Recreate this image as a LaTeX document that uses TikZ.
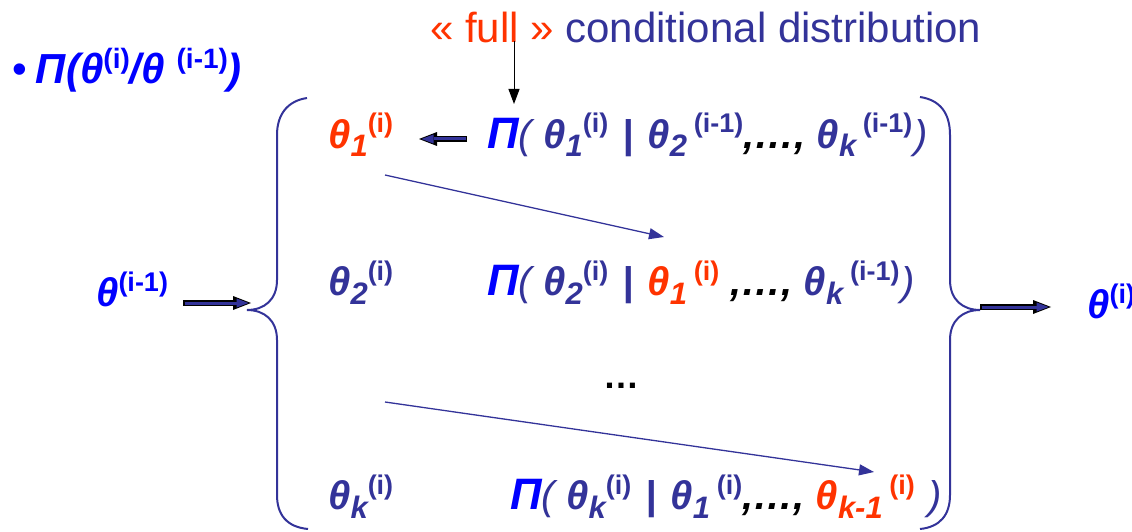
\documentclass[tikz,border=0pt]{standalone}
\usepackage{fontspec}
\setmainfont{Liberation Sans}
\usetikzlibrary{arrows.meta}
\definecolor{InkNavy}{HTML}{333399}
\definecolor{InkBlue}{HTML}{0000FF}
\definecolor{InkRed}{HTML}{FF3300}
\newcommand{\fm}{\fontsize{40}{44}\selectfont\bfseries\itshape}
\newcommand{\subx}[1]{\raisebox{-9pt}{\fontsize{31}{34}\selectfont\bfseries\itshape #1}}
\newcommand{\supx}[1]{\raisebox{15pt}{\fontsize{27}{30}\selectfont\bfseries\upshape #1}}
\newcommand{\bigpi}{{\color{InkBlue}\fontsize{44}{48}\selectfont Π}}
\newcommand{\given}{\hspace{3pt} | \hspace{3pt}}
\tikzset{
  txt/.style={inner sep=0pt, anchor=base west},
  thin arrow/.style={draw=InkNavy, line width=1.3pt, -{Triangle[length=15pt,width=11pt]}},
  fat arrow/.style={draw=InkNavy, line width=3pt, shorten >=2.5pt, shorten <=1.5pt,
    -{Triangle[length=12pt,width=9pt,line width=0pt]},
    preaction={draw=black, line width=6pt, shorten >=0pt, shorten <=0pt,
      -{Triangle[length=18pt,width=14pt,line width=0pt]}}},
  brace/.style={draw=InkNavy, line width=2pt}
}

\begin{document}
\begin{tikzpicture}[x=1pt,y=-1pt]
        \useasboundingbox (0,0) rectangle (1132,532);
        % header texts
        \node[txt, text=InkBlue] (bul) at (12,84) {\fontsize{42}{46}\selectfont{\mdseries •}\hspace{9pt}{\bfseries\itshape Π(θ\raisebox{15pt}{\fontsize{28}{30}\selectfont\upshape (i)}/θ \raisebox{15pt}{\fontsize{28}{30}\selectfont\upshape (i-1)})}};
        \node[txt] (full) at (430,43) {\fontsize{42}{46}\selectfont{\color{InkRed}« full »} {\color{InkNavy}conditional distribution}};
        % left labels
        \node[txt, text=InkRed] (t1) at (328,148) {\fm θ\subx{1}\supx{(i)}};
        \node[txt, text=InkNavy] (t2) at (328,295) {\fm θ\subx{2}\supx{(i)}};
        \node[txt, text=InkNavy] (tk) at (328,509) {\fm θ\subx{k}\supx{(i)}};
        % full conditionals
        \node[txt, text=InkNavy] (f1) at (487,148) {\fm\bigpi{\mdseries( }θ\subx{1}\supx{(i)}\given θ\subx{2}\,\supx{(i-1)}{\color{black},…,} θ\subx{k}\,\supx{(i-1)}\hspace{2pt}{\mdseries)}};
        \node[txt, text=InkNavy] (f2) at (487,295) {\fm\bigpi{\mdseries( }θ\subx{2}\supx{(i)}\given{\color{InkRed}θ\subx{1}\,\supx{(i)}} {\color{black},…,} θ\subx{k}\,\supx{(i-1)}\hspace{2pt}{\mdseries)}};
        \node[txt, text=InkNavy] (fk) at (510,509) {\fm\bigpi{\mdseries( }θ\subx{k}\supx{(i)}\given θ\subx{1}\,\supx{(i)}{\color{black},…,} {\color{InkRed}θ\subx{k-1}\,\supx{(i)}} \hspace{2pt}{\mdseries)}};
        \node[txt] (dots) at (603,388) {\fontsize{36}{40}\selectfont\bfseries …};
        % input and output
        \node[txt, text=InkBlue] (prev) at (96,306) {\fm θ\supx{(i-1)}};
        \node[txt, text=InkBlue] (next) at (1087,318) {\fm θ\supx{(i)}};
        % braces
        \coordinate (lcusp) at (247,310);
        \coordinate (rcusp) at (980,310);
        \draw[brace] (307,98) .. controls (287,101) and (277,115) .. (277,135) -- (277,280)
          .. controls (277,300) and (264,310) .. (lcusp) .. controls (264,310) and (277,320) .. (277,340)
          -- (277,495) .. controls (277,515) and (287,527) .. (308,529);
        \draw[brace] (920,97) .. controls (940,100) and (950,113) .. (950,135) -- (950,280)
          .. controls (950,300) and (963,310) .. (rcusp) .. controls (963,310) and (950,320) .. (950,340)
          -- (950,495) .. controls (950,515) and (940,527) .. (920,529);
        % connectors
        \coordinate (fullfoot) at (514,41);
        \coordinate (f1top) at (514,104);
        \draw[black, line width=1pt, -{Triangle[length=15pt,width=11pt]}] (fullfoot) -- (f1top);
        \coordinate (a0s) at (467,139);
        \coordinate (a0e) at (419,139);
        \draw[fat arrow] (a0s) -- (a0e);
        \coordinate (ins) at (183,303);
        \coordinate (ine) at (251,303);
        \draw[fat arrow] (ins) -- (ine);
        \coordinate (outs) at (980,307);
        \coordinate (oute) at (1051,307);
        \draw[fat arrow] (outs) -- (oute);
        \coordinate (a1s) at (385,175);
        \coordinate (a1e) at (664,237);
        \draw[thin arrow] (a1s) -- (a1e);
        \coordinate (a2s) at (385,402);
        \coordinate (a2e) at (874,472);
        \draw[thin arrow] (a2s) -- (a2e);
\end{tikzpicture}
\end{document}
